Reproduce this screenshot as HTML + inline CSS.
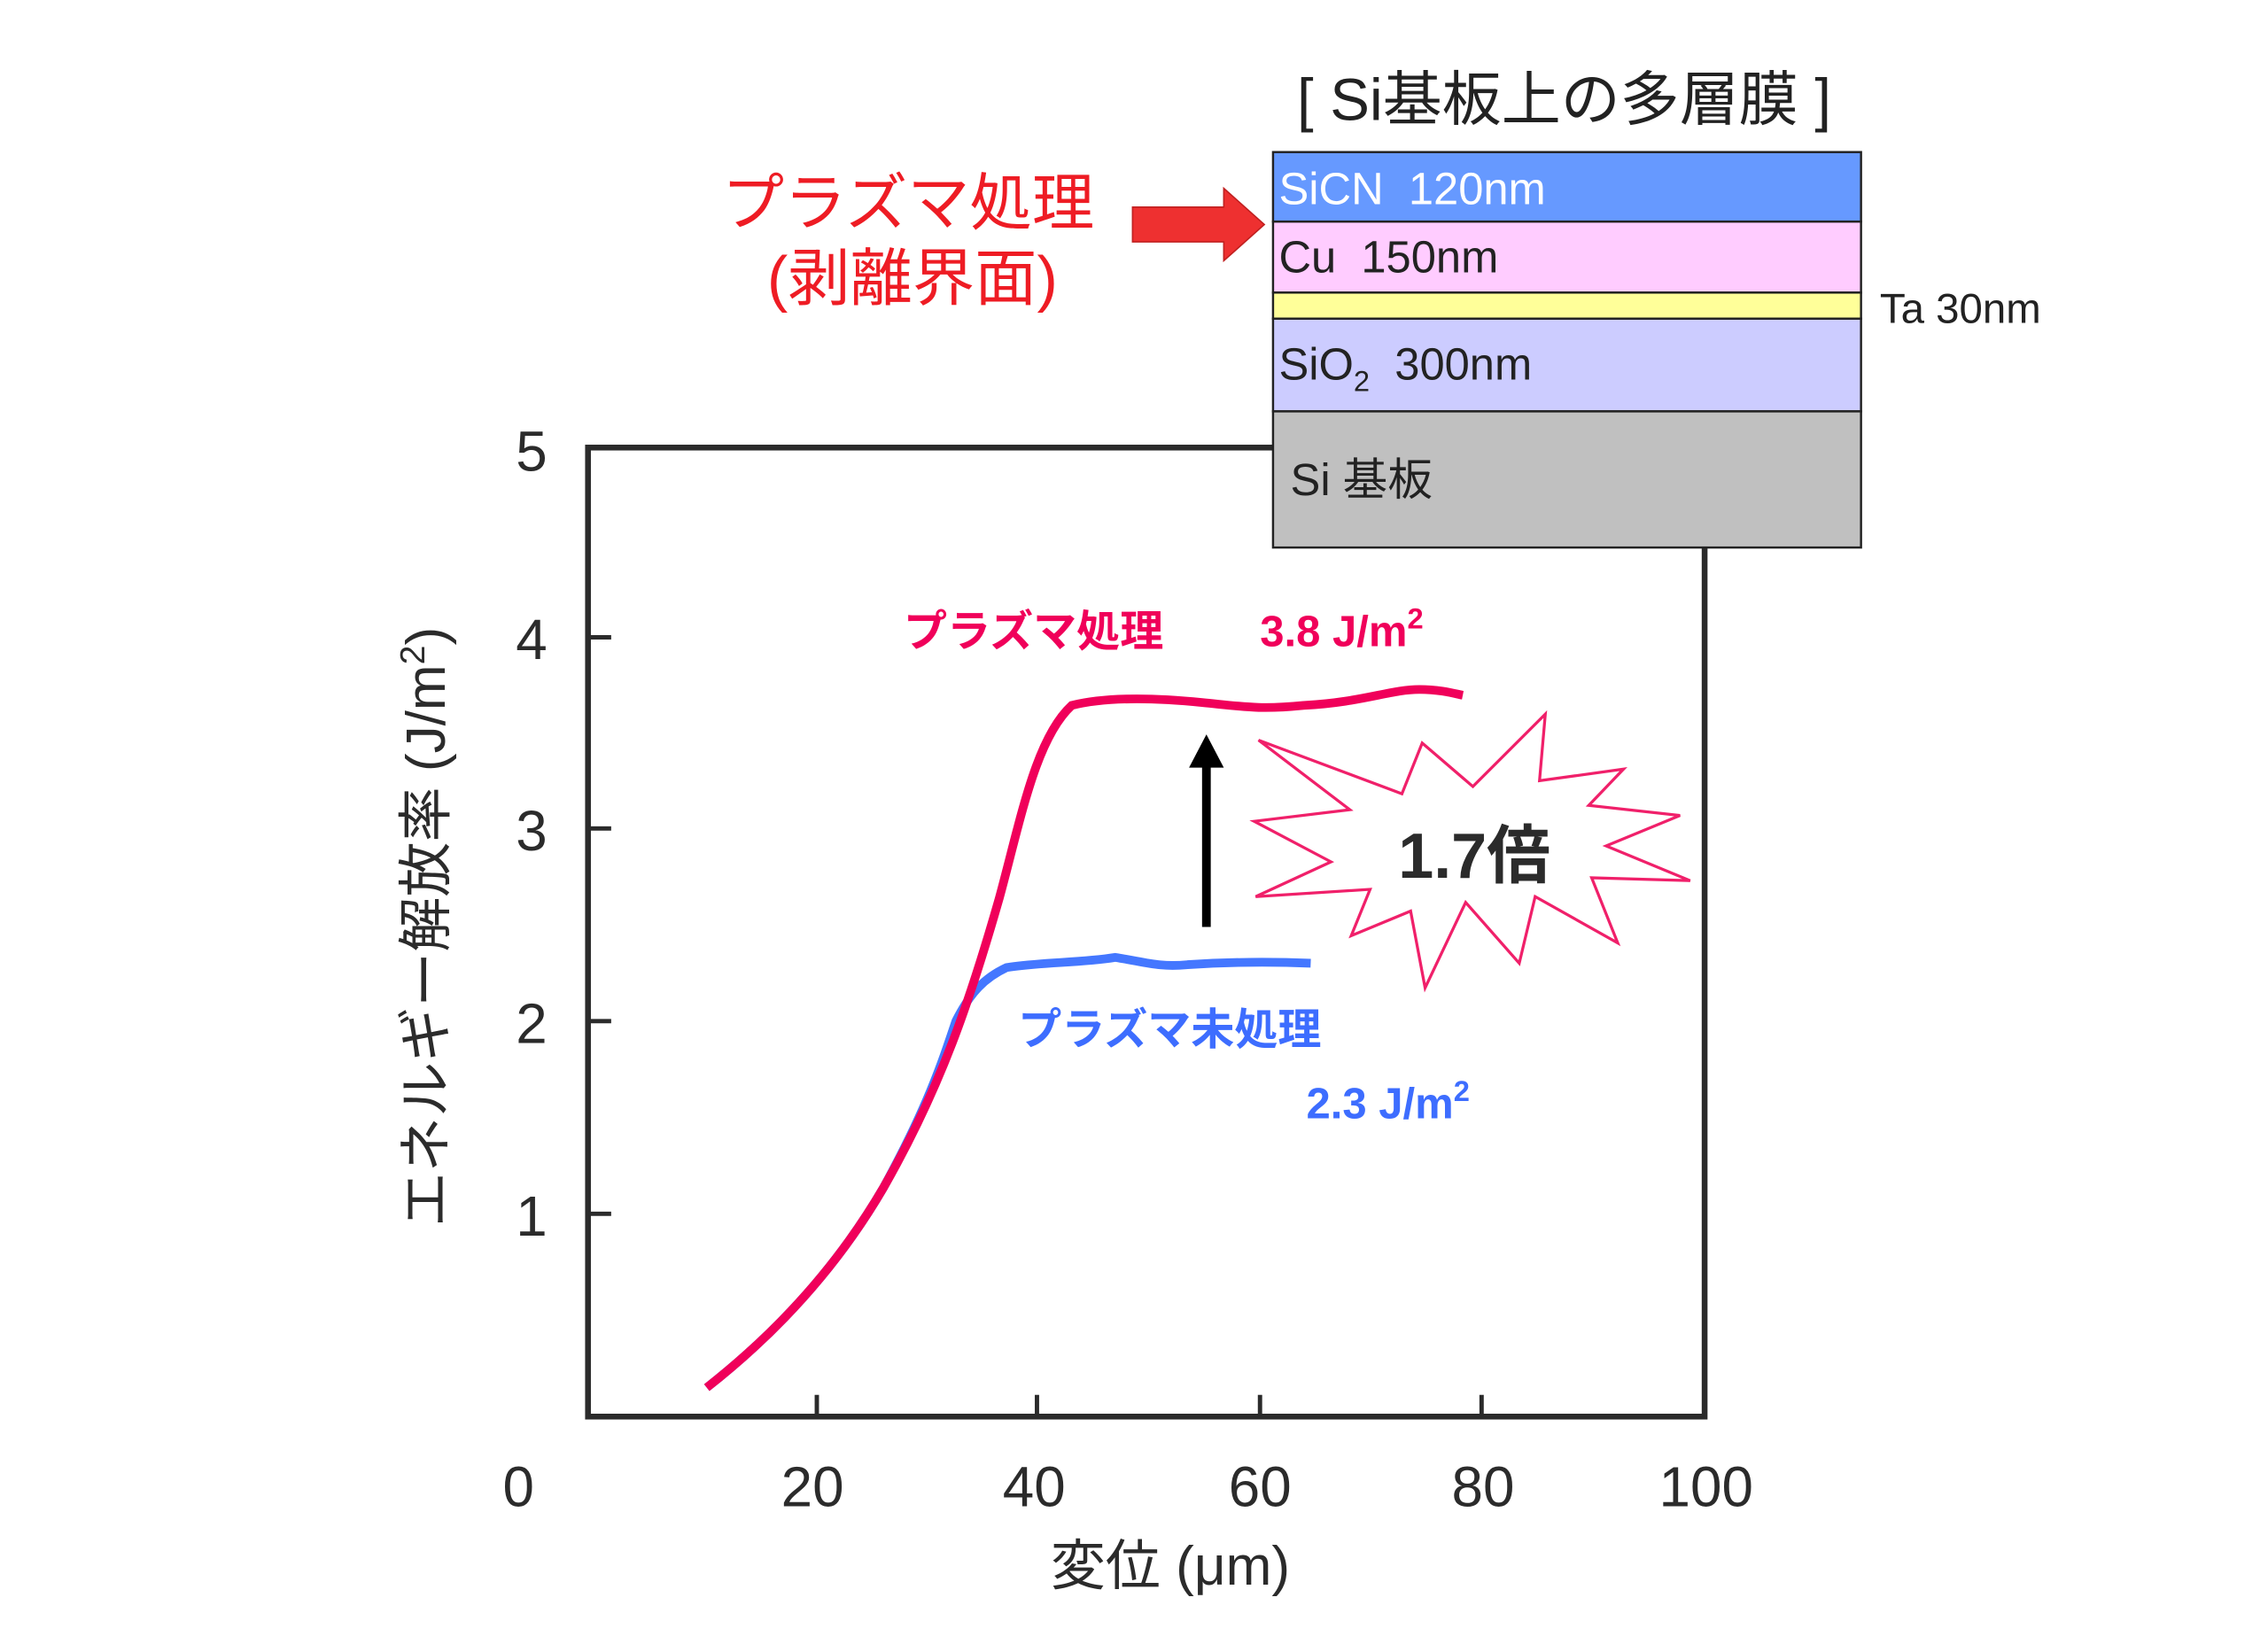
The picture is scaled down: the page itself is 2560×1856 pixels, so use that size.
<!DOCTYPE html>
<html><head><meta charset="utf-8"><style>
html,body{margin:0;padding:0;background:#fff;}
svg{display:block;}
text{font-family:"Liberation Sans","Noto Sans CJK JP",sans-serif;}
</style></head><body>
<svg width="2560" height="1856" viewBox="0 0 1566 1135" preserveAspectRatio="none" xmlns="http://www.w3.org/2000/svg">
<rect x="0" y="0" width="1600" height="1160" fill="#fff"/>
<!-- axes -->
<rect x="406" y="309" width="771" height="669" fill="none" stroke="#2b2b2b" stroke-width="4"/>
<g stroke="#2b2b2b" stroke-width="3">
<line x1="406" y1="440" x2="422" y2="440"/><line x1="406" y1="572" x2="422" y2="572"/>
<line x1="406" y1="705" x2="422" y2="705"/><line x1="406" y1="838" x2="422" y2="838"/>
<line x1="564" y1="978" x2="564" y2="963"/><line x1="716" y1="978" x2="716" y2="963"/>
<line x1="870" y1="978" x2="870" y2="963"/><line x1="1023" y1="978" x2="1023" y2="963"/>
</g>
<g font-size="39" fill="#2b2b2b" text-anchor="middle">
<text x="367" y="325">5</text><text x="367" y="455">4</text><text x="367" y="587">3</text>
<text x="367" y="720">2</text><text x="367" y="853">1</text>
<text x="358" y="1040">0</text><text x="561" y="1040">20</text><text x="714" y="1040">40</text>
<text x="870" y="1040">60</text><text x="1024" y="1040">80</text><text x="1178" y="1040">100</text>
<text x="808" y="1094" font-size="38">変位 (μm)</text>
<text transform="translate(307,640) rotate(-90)" font-size="38">エネルギー解放率 (J/m<tspan font-size="24" dy="-14">2</tspan><tspan dy="14">)</tspan></text>
</g>
<!-- curves -->
<path d="M488,958 C530,925 575,880 610,820 C640,765 650,735 660,705 C670,685 680,675 695,668 C720,664 745,665 770,661 C790,664 800,668 820,666 C850,664 880,664 905,665" fill="none" stroke="#4477ff" stroke-width="6"/>
<path d="M488,958 C530,925 575,880 610,820 C650,750 670,690 690,620 C705,565 715,510 740,487 C760,482 790,481 830,485 C860,488 870,490 900,487 C940,485 960,476 980,476 C995,476 1005,479 1010,480" fill="none" stroke="#f0005a" stroke-width="6"/>
<!-- labels -->
<g font-weight="bold" font-size="30">
<text x="624" y="446" fill="#f0005a">プラズマ処理</text>
<text x="870" y="446" fill="#f0005a">3.8 J/m<tspan font-size="20" dy="-12">2</tspan></text>
<text x="703" y="721" fill="#3d6dff">プラズマ未処理</text>
<text x="902" y="772" fill="#3d6dff">2.3 J/m<tspan font-size="20" dy="-12">2</tspan></text>
</g>
<!-- black arrow -->
<line x1="833" y1="640" x2="833" y2="528" stroke="#000" stroke-width="6"/>
<polygon points="821,530 845,530 833,507" fill="#000"/>
<!-- starburst -->
<polygon points="869,511 968,548 982,513 1017,543 1067,493 1063,539 1121,531 1097,556 1160,563 1109,584 1167,608 1099,606 1117,651 1060,619 1049,665 1012,623 984,682 974,629 933,646 946,614 867,619 919,595 866,567 932,559" fill="#fff" stroke="#f0206a" stroke-width="2"/>
<text x="1018" y="606" text-anchor="middle" font-size="44" font-weight="bold" fill="#2b2b2b">1.7倍</text>
<!-- layer stack -->
<g stroke="#222" stroke-width="1.5">
<rect x="879" y="105" width="406" height="48" fill="#6699ff"/>
<rect x="879" y="153" width="406" height="49" fill="#ffccff"/>
<rect x="879" y="202" width="406" height="18" fill="#ffff99"/>
<rect x="879" y="220" width="406" height="64" fill="#ccccff"/>
<rect x="879" y="284" width="406" height="94" fill="#c0c0c0"/>
</g>
<g font-size="31" fill="#222">
<text x="883" y="141" fill="#fff" xml:space="preserve">SiCN  120nm</text>
<text x="883" y="188" xml:space="preserve">Cu  150nm</text>
<text x="883" y="262" xml:space="preserve">SiO<tspan font-size="20" dy="8">2</tspan><tspan dy="-8">  300nm</tspan></text>
<text x="891" y="342">Si 基板</text>
<text x="1298" y="223" font-size="29">Ta 30nm</text>
<text x="1080" y="83" font-size="41" text-anchor="middle">[ Si基板上の多層膜 ]</text>
</g>
<g font-size="43" fill="#ee1c24" text-anchor="middle">
<text x="627" y="155">プラズマ処理</text>
<text x="630" y="207">(剥離界面)</text>
</g>
<polygon points="782,143 845,143 845,130 873,155 845,180 845,167 782,167" fill="#ee3030" stroke="#c02020" stroke-width="1"/>
</svg>
</body></html>
